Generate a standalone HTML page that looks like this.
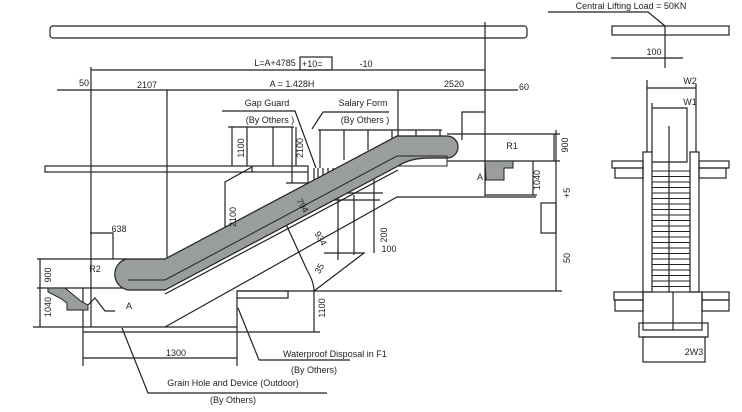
<!DOCTYPE html>
<html><head><meta charset="utf-8"><style>
html,body{margin:0;padding:0;background:#fff;}
svg{display:block;}
text{font-family:"Liberation Sans",sans-serif;font-size:9px;fill:#222;}
</style></head><body>
<svg width="742" height="412" viewBox="0 0 742 412" xmlns="http://www.w3.org/2000/svg">
<g stroke="#222" stroke-width="1.2" fill="none">
<!-- top bar -->
<rect x="50" y="26" width="477" height="12" rx="3"/>
<line x1="485" y1="22" x2="485" y2="196"/>
<!-- L dim -->
<line x1="91" y1="70" x2="485" y2="70"/>
<line x1="91" y1="67" x2="91" y2="327"/>
<rect x="300" y="57" width="32" height="13"/>
<!-- A dim -->
<line x1="57" y1="90" x2="518" y2="90"/>
<line x1="167" y1="90" x2="167" y2="259"/>
<line x1="398" y1="90" x2="398" y2="136"/>
<!-- leaders -->
<polyline points="222,111 295,111 316,168"/>
<polyline points="389,112 323,112 312,129"/>
<!-- left railing -->
<line x1="228" y1="127" x2="294" y2="127"/>
<line x1="232" y1="127" x2="232" y2="166"/>
<line x1="247" y1="127" x2="247" y2="166"/>
<line x1="273" y1="127" x2="273" y2="166"/>
<line x1="292" y1="127" x2="292" y2="183"/>
<line x1="296" y1="127" x2="296" y2="166"/>
<!-- upper left slab -->
<rect x="45" y="166" width="263" height="6"/>
<polyline points="308,172 308,183 286,183"/>
<polyline points="252,172 252,167 225,182 225,257"/>
<!-- right railing -->
<line x1="318" y1="130" x2="442" y2="130"/>
<line x1="320" y1="130" x2="320" y2="168"/>
<line x1="344" y1="130" x2="344" y2="160"/>
<line x1="368" y1="130" x2="368" y2="150"/>
<line x1="392" y1="130" x2="392" y2="138"/>
<line x1="416" y1="130" x2="416" y2="136"/>
<line x1="440" y1="130" x2="440" y2="136"/>
<line x1="314" y1="168" x2="314" y2="180"/>
<line x1="318" y1="168" x2="318" y2="180"/>
<line x1="323" y1="168" x2="323" y2="178"/>
<line x1="328" y1="168" x2="328" y2="176"/>
<line x1="333" y1="168" x2="333" y2="172"/>
<!-- upper right -->
<polyline points="462,140 462,112 485,112"/>
<line x1="447" y1="134" x2="560" y2="134"/>
<line x1="447" y1="161" x2="560" y2="161"/>
<line x1="554" y1="134" x2="554" y2="161"/>
<polyline points="485,195 537,195"/>
<line x1="533" y1="161" x2="533" y2="195"/>
<!-- right dims -->
<line x1="556" y1="130" x2="556" y2="291"/>
<rect x="541" y="203" width="15" height="30"/>
<!-- lower structure -->
<polyline points="165,327 397,197 536,197"/>
<line x1="237" y1="291" x2="562" y2="291"/>
<rect x="237" y="291" width="51" height="7"/>
<line x1="314" y1="291" x2="314" y2="332"/>
<path d="M285,222 L307,270 Q314,282 314,291"/>
<polyline points="314,291 364,253 324,253"/>
<line x1="338" y1="195" x2="338" y2="260"/>
<line x1="354" y1="195" x2="354" y2="255"/>
<line x1="374" y1="172" x2="374" y2="253"/>
<line x1="333" y1="193" x2="383" y2="193"/>
<line x1="333" y1="200" x2="380" y2="200"/>
<!-- lower left -->
<line x1="37" y1="259" x2="126" y2="259"/>
<polyline points="90,233 113,233 113,259"/>
<line x1="40" y1="259" x2="40" y2="327"/>
<line x1="37" y1="288" x2="165" y2="288"/>
<polyline points="88,305 95,298 105,311 115,311"/>
<line x1="33" y1="327" x2="237" y2="327"/>
<line x1="83" y1="332" x2="320" y2="332"/>
<line x1="83" y1="288" x2="83" y2="366"/>
<line x1="237" y1="298" x2="237" y2="366"/>
<line x1="83" y1="358" x2="237" y2="358"/>
<polyline points="122,328 148,393 327,393"/>
<polyline points="238,308 259,360 350,360"/>
<!-- right front view -->
<polyline points="548,12 648,12 665,26"/>
<rect x="612" y="26" width="117" height="9"/>
<line x1="665" y1="26" x2="665" y2="68"/>
<line x1="611" y1="58" x2="683" y2="58"/>
<line x1="647" y1="80" x2="647" y2="152"/>
<line x1="696" y1="84" x2="696" y2="152"/>
<line x1="647" y1="88" x2="696" y2="88"/>
<line x1="652" y1="103" x2="652" y2="152"/>
<polyline points="652,108 687,108 687,162 652,162"/>
<rect x="643" y="152" width="9" height="140"/>
<rect x="690" y="152" width="9" height="140"/>
<rect x="612" y="161" width="31" height="7"/>
<rect x="615" y="168" width="28" height="10"/>
<rect x="699" y="161" width="30" height="7"/>
<rect x="699" y="168" width="27" height="10"/>
<line x1="669" y1="126" x2="669" y2="292"/>
<rect x="614" y="292" width="29" height="8"/>
<rect x="615" y="300" width="28" height="11"/>
<rect x="702" y="292" width="27" height="8"/>
<rect x="702" y="300" width="27" height="11"/>
<rect x="643" y="292" width="59" height="38"/>
<line x1="673" y1="292" x2="673" y2="330"/>
<rect x="639" y="323" width="69" height="14"/>
<rect x="643" y="337" width="62" height="25"/>
</g>
<!-- steps -->
<g stroke="#222" stroke-width="1">
<line x1="652" y1="171" x2="690" y2="171"/><line x1="652" y1="176.5" x2="690" y2="176.5"/>
<line x1="652" y1="182" x2="690" y2="182"/><line x1="652" y1="187.5" x2="690" y2="187.5"/>
<line x1="652" y1="193" x2="690" y2="193"/><line x1="652" y1="198.5" x2="690" y2="198.5"/>
<line x1="652" y1="204" x2="690" y2="204"/><line x1="652" y1="209.5" x2="690" y2="209.5"/>
<line x1="652" y1="215" x2="690" y2="215"/><line x1="652" y1="220.5" x2="690" y2="220.5"/>
<line x1="652" y1="226" x2="690" y2="226"/><line x1="652" y1="231.5" x2="690" y2="231.5"/>
<line x1="652" y1="237" x2="690" y2="237"/><line x1="652" y1="242.5" x2="690" y2="242.5"/>
<line x1="652" y1="248" x2="690" y2="248"/><line x1="652" y1="253.5" x2="690" y2="253.5"/>
<line x1="652" y1="259" x2="690" y2="259"/><line x1="652" y1="264.5" x2="690" y2="264.5"/>
<line x1="652" y1="270" x2="690" y2="270"/><line x1="652" y1="275.5" x2="690" y2="275.5"/>
<line x1="652" y1="281" x2="690" y2="281"/><line x1="652" y1="286.5" x2="690" y2="286.5"/>
</g>
<!-- grey escalator truss -->
<path d="M126,259 L165,259 L397,136 L447,136 A11,11 0 0 1 447,158 L430,158 Q410,158 398,166 L165,290 L128,290 A16,16 0 0 1 126,259 Z" fill="#9a9d9d" stroke="#222" stroke-width="1.2"/>
<path d="M128,280 L165,280 L397,156 L447,156 L447,166 L398,166" fill="none" stroke="#222" stroke-width="1"/>
<line x1="165" y1="294" x2="398" y2="170" stroke="#222" stroke-width="1.2"/>
<!-- grey blocks -->
<polygon points="485,161 513,161 513,168 504,168 504,180 486,180" fill="#9a9d9d" stroke="#222" stroke-width="1"/>
<polygon points="48,288 65,288 71,293 82,302 88,305 88,310 67,310 67,303 60,298 48,292" fill="#9a9d9d" stroke="#222" stroke-width="1"/>
<!-- text -->
<text x="275" y="66" text-anchor="middle">L=A+4785</text>
<text x="302" y="67">+10=</text>
<text x="366" y="67" text-anchor="middle">-10</text>
<text x="84" y="86" text-anchor="middle">50</text>
<text x="147" y="88" text-anchor="middle">2107</text>
<text x="292" y="87" text-anchor="middle">A = 1.428H</text>
<text x="454" y="87" text-anchor="middle">2520</text>
<text x="524" y="90" text-anchor="middle">60</text>
<text x="267" y="106" text-anchor="middle">Gap Guard</text>
<text x="270" y="123" text-anchor="middle">(By Others )</text>
<text x="363" y="106" text-anchor="middle">Salary Form</text>
<text x="365" y="123" text-anchor="middle">(By Others )</text>
<text x="512" y="149" text-anchor="middle">R1</text>
<text x="480" y="180" text-anchor="middle">A</text>
<text x="119" y="232" text-anchor="middle">638</text>
<text x="95" y="272" text-anchor="middle">R2</text>
<text x="129" y="309" text-anchor="middle">A</text>
<text x="389" y="252" text-anchor="middle">100</text>
<text x="176" y="356" text-anchor="middle">1300</text>
<text x="283" y="357">Waterproof Disposal in F1</text>
<text x="314" y="373" text-anchor="middle">(By Others)</text>
<text x="233" y="386" text-anchor="middle">Grain Hole and Device (Outdoor)</text>
<text x="233" y="403" text-anchor="middle">(By Others)</text>
<text x="631" y="9" text-anchor="middle">Central Lifting Load = 50KN</text>
<text x="654" y="55" text-anchor="middle">100</text>
<text x="690" y="84" text-anchor="middle">W2</text>
<text x="690" y="105" text-anchor="middle">W1</text>
<text x="694" y="355" text-anchor="middle">2W3</text>
<text transform="translate(244,148) rotate(-90)" text-anchor="middle">1100</text>
<text transform="translate(303,148) rotate(-90)" text-anchor="middle">2100</text>
<text transform="translate(236,217) rotate(-90)" text-anchor="middle">2100</text>
<text transform="translate(387,235) rotate(-90)" text-anchor="middle">200</text>
<text transform="translate(325,308) rotate(-90)" text-anchor="middle">1100</text>
<text transform="translate(51,275) rotate(-90)" text-anchor="middle">900</text>
<text transform="translate(51,307) rotate(-90)" text-anchor="middle">1040</text>
<text transform="translate(540,180) rotate(-90)" text-anchor="middle">1040</text>
<text transform="translate(568,145) rotate(-90)" text-anchor="middle">900</text>
<text transform="translate(570,193) rotate(-90)" text-anchor="middle">+5</text>
<text transform="translate(570,258) rotate(-90)" text-anchor="middle">50</text>
<text transform="translate(300,207) rotate(60)" text-anchor="middle">794</text>
<text transform="translate(318,240) rotate(60)" text-anchor="middle">934</text>
<text transform="translate(322,270) rotate(-60)" text-anchor="middle">35</text>
</svg>
</body></html>
